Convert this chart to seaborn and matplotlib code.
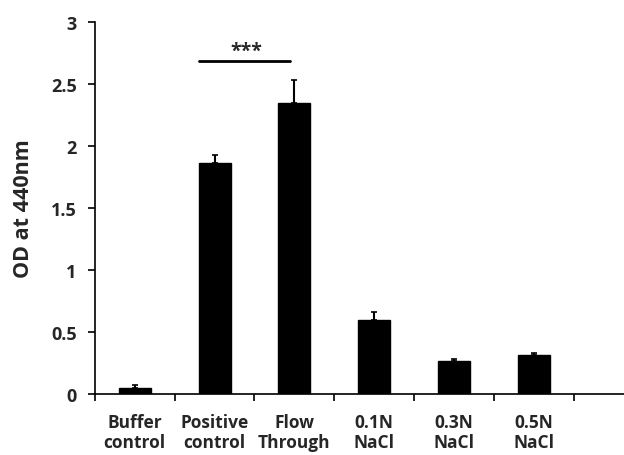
import matplotlib
matplotlib.use("Agg")
import matplotlib.pyplot as plt
import seaborn as sns
import numpy as np
import pandas as pd

categories = ["Buffer\ncontrol", "Positive\ncontrol", "Flow\nThrough", "0.1N\nNaCl", "0.3N\nNaCl", "0.5N\nNaCl"]
values = [0.05, 1.864, 2.345, 0.596, 0.262, 0.317]
errors = [0.02, 0.062, 0.188, 0.064, 0.018, 0.011]
yticks = [0, 0.5, 1, 1.5, 2, 2.5, 3]
ytick_labels = ["0", "0.5", "1", "1.5", "2", "2.5", "3"]
sig_pair = (1, 2)
sig_level = 2.68
sig_text = "***"

sns.set_theme(style="white")
plt.rcParams['font.family'] = ['Open Sans', 'DejaVu Sans']
plt.rcParams['font.weight'] = 'bold'

df = pd.DataFrame({"cat": categories, "val": values})

fig = plt.figure(figsize=(6.24, 4.56), dpi=100)
ax = fig.add_axes([0.152, 0.134, 0.848, 0.816])

sns.barplot(data=df, x="cat", y="val", color="black", width=0.4,
            saturation=1, errorbar=None, ax=ax, edgecolor="black")
x = np.arange(len(categories))
ax.errorbar(x, values, yerr=[np.zeros(len(values)), errors], fmt="none",
            ecolor="black", elinewidth=1.5, capsize=2, capthick=1.2)

ax.set_xlim(-0.5, 6.13)
ax.set_ylim(0, 3)
ax.set_yticks(yticks)
ax.set_yticklabels(ytick_labels, fontsize=13, fontweight="bold")
ax.set_xticks(x)
ax.set_xticklabels(categories, fontsize=12.5, fontweight="bold", linespacing=1.1)
ax.set_xticks(np.arange(-0.5, len(categories), 1.0), minor=True)
ax.tick_params(axis="x", which="major", length=0, pad=14)
ax.tick_params(axis="x", which="minor", length=5, width=1.2, color="black", direction="out", bottom=True)
ax.tick_params(axis="y", length=5, width=1.2, color="black", direction="out", left=True, pad=8)
ax.set_xlabel("")
ax.set_ylabel("OD at 440nm", fontsize=15.5, fontweight="bold", labelpad=12)

for s in ["top", "right"]:
    ax.spines[s].set_visible(False)
for s in ["left", "bottom"]:
    ax.spines[s].set_color("black")
    ax.spines[s].set_linewidth(1.2)

ax.plot([sig_pair[0] - 0.2, sig_pair[1] - 0.05], [sig_level, sig_level], color="black", lw=2)
ax.text((sig_pair[0] + sig_pair[1]) / 2 - 0.1, sig_level + 0.005, sig_text, ha="center", va="bottom",
        fontsize=14, fontweight="bold")

fig.savefig("out.png", dpi=100)
